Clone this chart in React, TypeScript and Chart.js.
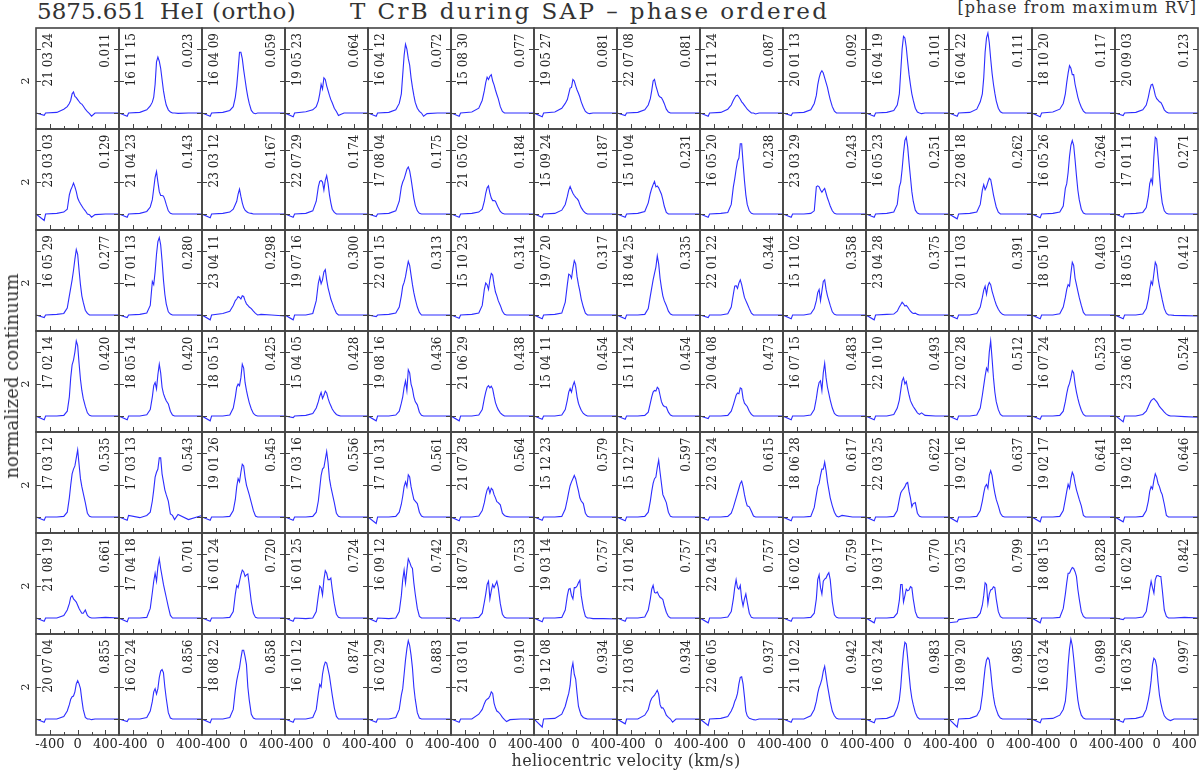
import React, { useEffect, useRef } from 'react';
import { Chart, registerables } from 'chart.js';

Chart.register(...registerables);

// ---------- data ----------
const VELOCITY = [-600, -482, -462, -300, -200, -150, -120, -100, -80, -60, -40, -20, 0, 20, 40, 60, 80, 110, 140, 170, 200, 250, 400, 595];

const X_MAJOR_TICKS = [-400, 0, 400];
const X_MINOR_TICKS = [-200, 200];
const Y_TICKS = [1, 2, 3];
const Y_LABELED_TICKS = [2];

const DATES = [
  ['21 03 24', '16 11 15', '16 04 09', '19 05 23', '16 04 12', '15 08 30', '19 05 27', '22 07 08', '21 11 24', '20 01 13', '16 04 19', '16 04 22', '18 10 20', '20 09 03'],
  ['23 03 03', '21 04 23', '23 03 12', '22 07 29', '17 08 04', '21 05 02', '15 09 24', '15 10 04', '16 05 20', '23 03 29', '16 05 23', '22 08 18', '16 05 26', '17 01 11'],
  ['16 05 29', '17 01 13', '23 04 11', '19 07 16', '22 01 15', '15 10 23', '19 07 20', '18 04 25', '22 01 22', '15 11 02', '23 04 28', '20 11 03', '18 05 10', '18 05 12'],
  ['17 02 14', '18 05 14', '18 05 15', '15 04 05', '19 08 16', '21 06 29', '15 04 11', '15 11 24', '20 04 08', '16 07 15', '22 10 10', '22 02 28', '16 07 24', '23 06 01'],
  ['17 03 12', '17 03 13', '19 01 26', '17 03 16', '17 10 31', '21 07 28', '15 12 23', '15 12 27', '22 03 24', '18 06 28', '22 03 25', '19 02 16', '19 02 17', '19 02 18'],
  ['21 08 19', '17 04 18', '16 01 24', '16 01 25', '16 09 12', '18 07 29', '19 03 14', '21 01 26', '22 04 25', '16 02 02', '19 03 17', '19 03 25', '18 08 15', '16 02 20'],
  ['20 07 04', '16 02 24', '18 08 22', '16 10 12', '16 02 29', '21 03 01', '19 12 08', '21 03 06', '22 06 05', '21 10 22', '16 03 24', '18 09 20', '16 03 24', '16 03 26'],
];

const PHASES = [
  ['0.011', '0.023', '0.059', '0.064', '0.072', '0.077', '0.081', '0.081', '0.087', '0.092', '0.101', '0.111', '0.117', '0.123'],
  ['0.129', '0.143', '0.167', '0.174', '0.175', '0.184', '0.187', '0.231', '0.238', '0.243', '0.251', '0.262', '0.264', '0.271'],
  ['0.277', '0.280', '0.298', '0.300', '0.313', '0.314', '0.317', '0.335', '0.344', '0.358', '0.375', '0.391', '0.403', '0.412'],
  ['0.420', '0.420', '0.425', '0.428', '0.436', '0.438', '0.454', '0.454', '0.473', '0.483', '0.493', '0.512', '0.523', '0.524'],
  ['0.535', '0.543', '0.545', '0.556', '0.561', '0.564', '0.579', '0.597', '0.615', '0.617', '0.622', '0.637', '0.641', '0.646'],
  ['0.661', '0.701', '0.720', '0.724', '0.742', '0.753', '0.757', '0.757', '0.757', '0.759', '0.770', '0.799', '0.828', '0.842'],
  ['0.855', '0.856', '0.858', '0.874', '0.883', '0.910', '0.934', '0.934', '0.937', '0.942', '0.983', '0.985', '0.989', '0.997'],
];

const FLUX_ROW_1 = [
  [1.0, 0.93, 1.0, 1.02, 1.12, 1.2, 1.3, 1.4, 1.6, 1.66, 1.52, 1.48, 1.42, 1.36, 1.3, 1.28, 1.22, 1.12, 1.04, 0.98, 0.9, 1.0, 1.0, 1.0],
  [1.0, 0.9, 1.0, 1.02, 1.1, 1.22, 1.34, 1.5, 1.9, 2.6, 2.75, 2.62, 2.4, 2.05, 1.7, 1.45, 1.25, 1.1, 1.03, 1.0, 1.0, 0.99, 1.0, 1.0],
  [1.0, 0.9, 1.0, 1.02, 1.08, 1.2, 1.5, 1.85, 2.35, 2.9, 2.9, 2.7, 2.35, 2.05, 1.75, 1.5, 1.3, 1.08, 1.0, 0.98, 1.0, 1.0, 1.0, 1.0],
  [1.0, 0.88, 1.0, 1.04, 1.1, 1.2, 1.38, 1.6, 1.9, 1.75, 2.1, 2.05, 1.85, 1.7, 1.55, 1.42, 1.32, 1.15, 1.05, 0.92, 0.95, 1.0, 1.0, 1.0],
  [1.0, 0.9, 1.0, 1.02, 1.1, 1.3, 1.6, 2.2, 2.8, 3.15, 3.0, 2.7, 2.5, 2.1, 1.8, 1.55, 1.33, 1.15, 1.05, 1.0, 0.9, 0.98, 1.0, 1.0],
  [1.0, 0.9, 1.0, 1.03, 1.15, 1.4, 1.7, 1.95, 2.12, 2.05, 2.15, 2.2, 2.0, 1.88, 1.72, 1.58, 1.45, 1.2, 1.05, 1.0, 1.0, 1.0, 1.0, 1.0],
  [1.0, 0.88, 1.0, 1.03, 1.15, 1.3, 1.42, 1.6, 1.78, 1.8, 2.05, 2.0, 1.85, 1.72, 1.62, 1.5, 1.35, 1.18, 1.05, 1.0, 0.98, 1.0, 1.0, 1.0],
  [1.0, 0.92, 1.0, 1.02, 1.1, 1.25, 1.45, 1.7, 2.0, 2.05, 1.85, 1.7, 1.55, 1.5, 1.48, 1.4, 1.3, 1.12, 1.03, 1.0, 1.0, 1.0, 1.0, 1.0],
  [1.0, 0.9, 1.0, 1.02, 1.12, 1.25, 1.4, 1.48, 1.54, 1.56, 1.5, 1.43, 1.35, 1.3, 1.24, 1.18, 1.12, 1.06, 1.0, 1.0, 0.97, 1.0, 1.0, 1.0],
  [1.0, 0.92, 1.0, 1.02, 1.1, 1.3, 1.55, 1.88, 2.1, 2.25, 2.32, 2.25, 2.1, 1.95, 1.8, 1.6, 1.42, 1.2, 1.06, 1.0, 1.0, 1.0, 1.0, 1.0],
  [1.0, 0.9, 1.0, 1.02, 1.08, 1.25, 1.6, 2.3, 3.0, 3.4, 3.35, 3.05, 2.6, 2.2, 1.88, 1.6, 1.4, 1.15, 1.03, 1.0, 0.98, 1.0, 1.0, 1.0],
  [1.0, 0.9, 1.0, 1.02, 1.12, 1.35, 1.6, 2.1, 2.9, 3.35, 3.5, 3.2, 2.7, 2.25, 1.9, 1.62, 1.38, 1.15, 1.04, 1.0, 1.0, 1.0, 1.0, 1.0],
  [1.0, 0.88, 1.0, 1.03, 1.12, 1.3, 1.6, 1.95, 2.25, 2.48, 2.4, 2.2, 2.2, 1.9, 1.7, 1.5, 1.35, 1.18, 1.06, 1.0, 1.0, 1.0, 1.0, 1.0],
  [1.0, 0.92, 1.0, 1.02, 1.1, 1.25, 1.5, 1.72, 1.88, 1.9, 1.75, 1.55, 1.45, 1.4, 1.35, 1.33, 1.25, 1.1, 1.03, 1.0, 1.0, 1.0, 1.0, 1.0],
];

const FLUX_ROW_2 = [
  [1.0, 0.8, 1.0, 1.02, 1.06, 1.15, 1.6, 1.75, 1.85, 1.97, 1.85, 1.7, 1.5, 1.4, 1.32, 1.25, 1.18, 1.1, 1.0, 0.98, 0.9, 0.98, 1.0, 1.0],
  [1.0, 0.9, 1.0, 1.02, 1.08, 1.22, 1.45, 1.8, 2.15, 2.33, 2.0, 1.7, 1.58, 1.58, 1.56, 1.45, 1.3, 1.1, 1.02, 1.0, 1.0, 1.0, 1.0, 1.0],
  [1.0, 0.88, 1.0, 1.02, 1.06, 1.15, 1.3, 1.4, 1.62, 1.78, 1.55, 1.35, 1.2, 1.12, 1.08, 1.05, 1.03, 1.02, 1.0, 1.0, 1.0, 1.0, 1.0, 1.0],
  [1.0, 0.9, 1.0, 1.02, 1.1, 1.4, 1.85, 2.02, 2.05, 2.0, 1.75, 2.05, 2.2, 1.95, 1.6, 1.35, 1.15, 1.05, 1.0, 1.0, 1.0, 1.0, 1.0, 1.0],
  [1.0, 0.92, 1.0, 1.02, 1.1, 1.4, 1.85, 2.0, 2.1, 2.25, 2.4, 2.47, 2.35, 2.1, 1.8, 1.5, 1.28, 1.1, 1.02, 1.0, 1.0, 1.0, 1.0, 1.0],
  [1.0, 0.9, 1.0, 1.02, 1.06, 1.15, 1.4, 1.65, 1.82, 1.88, 1.65, 1.5, 1.42, 1.42, 1.4, 1.3, 1.2, 1.08, 1.02, 1.0, 1.0, 1.0, 1.0, 1.0],
  [1.0, 0.9, 1.0, 1.02, 1.12, 1.3, 1.55, 1.75, 1.86, 1.75, 1.65, 1.58, 1.52, 1.48, 1.42, 1.3, 1.2, 1.1, 1.03, 1.0, 1.0, 1.0, 1.0, 1.0],
  [1.0, 0.9, 1.0, 1.02, 1.08, 1.35, 1.65, 1.8, 1.92, 2.02, 1.85, 1.88, 1.82, 1.72, 1.62, 1.45, 1.25, 1.05, 1.0, 1.0, 1.0, 1.0, 1.0, 1.0],
  [1.0, 0.9, 1.0, 1.02, 1.05, 1.3, 1.85, 2.1, 2.4, 2.65, 2.75, 3.2, 3.2, 2.6, 2.05, 1.6, 1.3, 1.1, 1.02, 1.0, 1.0, 1.0, 1.0, 1.0],
  [1.0, 0.9, 1.0, 1.0, 1.02, 1.1, 1.85, 1.88, 1.85, 1.75, 1.68, 1.75, 1.8, 1.65, 1.5, 1.38, 1.25, 1.1, 1.02, 1.0, 1.0, 1.0, 1.0, 1.0],
  [1.0, 0.9, 1.0, 1.02, 1.06, 1.3, 1.85, 2.0, 2.4, 2.9, 3.3, 3.4, 3.1, 2.6, 2.15, 1.7, 1.4, 1.12, 1.03, 1.0, 1.0, 1.0, 1.0, 1.0],
  [1.0, 0.85, 1.0, 1.02, 1.06, 1.3, 1.75, 1.92, 1.76, 1.85, 2.0, 2.12, 2.08, 1.85, 1.6, 1.4, 1.22, 1.06, 1.0, 1.0, 1.0, 1.0, 1.0, 1.0],
  [1.0, 0.88, 1.0, 1.02, 1.06, 1.25, 1.8, 1.95, 2.3, 2.8, 3.15, 3.3, 3.15, 2.7, 2.2, 1.75, 1.45, 1.15, 1.03, 1.0, 1.0, 1.0, 1.0, 1.0],
  [1.0, 0.9, 1.0, 1.02, 1.05, 1.2, 1.55, 1.95, 2.1, 1.95, 2.8, 3.4, 3.35, 2.8, 2.2, 1.7, 1.35, 1.1, 1.02, 1.0, 1.0, 1.0, 1.0, 1.0],
];

const FLUX_ROW_3 = [
  [1.0, 0.92, 1.0, 1.02, 1.05, 1.22, 1.6, 1.85, 2.1, 2.4, 2.75, 3.05, 2.9, 2.4, 1.95, 1.6, 1.4, 1.15, 1.05, 1.0, 1.0, 1.0, 1.0, 1.0],
  [1.0, 0.92, 1.0, 1.02, 1.06, 1.3, 2.05, 1.95, 2.35, 2.9, 3.3, 3.42, 3.2, 2.7, 2.1, 1.65, 1.35, 1.1, 1.03, 1.0, 1.0, 1.0, 1.0, 1.0],
  [1.0, 0.85, 1.0, 1.05, 1.12, 1.3, 1.45, 1.5, 1.58, 1.55, 1.5, 1.6, 1.58, 1.45, 1.35, 1.3, 1.25, 1.2, 1.12, 1.05, 1.0, 1.02, 1.0, 0.97],
  [1.0, 0.85, 1.0, 1.0, 1.05, 1.45, 2.0, 2.18, 1.98, 2.1, 2.35, 2.42, 2.1, 1.85, 1.68, 1.5, 1.38, 1.2, 1.06, 1.0, 1.0, 1.0, 1.0, 1.0],
  [1.0, 0.95, 1.0, 1.02, 1.06, 1.25, 1.6, 1.9, 2.02, 2.2, 2.45, 2.68, 2.55, 2.25, 1.95, 1.7, 1.5, 1.25, 1.08, 1.0, 1.0, 1.0, 1.0, 1.0],
  [1.0, 0.9, 1.0, 1.02, 1.06, 1.3, 1.8, 2.0, 1.95, 1.8, 2.1, 2.3, 2.25, 1.95, 1.72, 1.6, 1.45, 1.3, 1.12, 1.02, 1.0, 1.0, 1.0, 1.0],
  [1.0, 0.88, 1.0, 1.02, 1.06, 1.4, 1.95, 2.28, 2.25, 2.15, 2.45, 2.7, 2.6, 2.2, 1.95, 1.75, 1.5, 1.25, 1.06, 1.0, 1.0, 1.0, 1.0, 1.0],
  [1.0, 0.88, 1.0, 1.0, 1.02, 1.2, 1.6, 1.85, 2.1, 2.3, 2.5, 2.85, 2.6, 2.15, 1.85, 1.6, 1.45, 1.3, 1.12, 1.03, 1.0, 1.0, 1.0, 1.0],
  [1.0, 0.92, 1.0, 1.0, 1.04, 1.25, 1.65, 1.9, 1.92, 1.83, 2.0, 2.1, 1.95, 1.75, 1.55, 1.45, 1.35, 1.2, 1.06, 1.0, 1.0, 1.0, 1.0, 1.0],
  [1.0, 0.88, 1.0, 1.0, 1.04, 1.2, 1.45, 1.7, 1.8, 1.45, 1.75, 2.05, 2.1, 1.8, 1.6, 1.45, 1.3, 1.1, 1.02, 1.0, 1.0, 1.0, 1.0, 1.0],
  [1.0, 0.85, 1.0, 1.02, 1.03, 1.12, 1.25, 1.32, 1.4, 1.35, 1.28, 1.3, 1.25, 1.18, 1.12, 1.08, 1.05, 1.06, 1.02, 1.0, 1.0, 1.0, 1.0, 1.0],
  [1.0, 0.88, 1.0, 1.0, 1.05, 1.25, 1.55, 1.78, 1.9, 1.65, 1.9, 2.02, 1.95, 1.75, 1.6, 1.45, 1.32, 1.18, 1.08, 1.02, 1.0, 1.0, 1.0, 1.0],
  [1.0, 0.88, 1.0, 1.0, 1.04, 1.25, 1.55, 1.8, 1.95, 1.9, 2.3, 2.65, 2.55, 2.15, 1.95, 1.75, 1.55, 1.3, 1.08, 1.0, 1.0, 1.0, 1.0, 1.0],
  [1.0, 0.88, 1.0, 1.0, 1.03, 1.2, 1.5, 1.8, 2.05, 1.95, 2.3, 2.65, 2.55, 2.15, 1.9, 1.7, 1.48, 1.2, 1.05, 1.0, 1.0, 0.99, 0.98, 0.97],
];

const FLUX_ROW_4 = [
  [1.0, 0.88, 1.0, 1.0, 1.02, 1.15, 1.6, 2.2, 2.6, 2.75, 3.0, 3.35, 3.2, 2.65, 2.15, 1.8, 1.55, 1.3, 1.1, 1.02, 1.0, 1.0, 1.0, 1.0],
  [1.0, 0.88, 1.0, 1.0, 1.04, 1.2, 1.6, 1.95, 2.05, 1.85, 2.3, 2.62, 2.35, 1.9, 1.7, 1.58, 1.48, 1.38, 1.15, 1.03, 1.0, 1.0, 1.0, 1.0],
  [1.0, 0.85, 1.0, 1.0, 1.03, 1.25, 1.6, 1.9, 2.0, 1.95, 2.2, 2.62, 2.5, 2.05, 1.8, 1.6, 1.42, 1.22, 1.08, 1.02, 1.0, 1.0, 1.0, 1.0],
  [1.0, 0.95, 1.0, 1.02, 1.08, 1.25, 1.45, 1.62, 1.74, 1.55, 1.65, 1.78, 1.72, 1.55, 1.42, 1.32, 1.22, 1.12, 1.05, 1.02, 1.0, 1.0, 1.0, 1.0],
  [1.0, 0.85, 1.0, 1.0, 1.03, 1.15, 1.4, 1.6, 1.9, 2.1, 1.8, 2.45, 2.35, 2.0, 1.85, 1.6, 1.45, 1.35, 1.12, 1.02, 1.0, 1.0, 1.0, 1.0],
  [1.0, 0.85, 1.0, 1.0, 1.03, 1.2, 1.55, 1.75, 1.9, 1.95, 1.88, 1.93, 1.85, 1.62, 1.42, 1.3, 1.2, 1.1, 1.04, 1.0, 1.0, 1.0, 1.0, 1.0],
  [1.0, 0.9, 1.0, 1.0, 1.03, 1.2, 1.5, 1.75, 1.86, 1.75, 1.95, 2.07, 1.9, 1.6, 1.4, 1.28, 1.18, 1.08, 1.03, 1.0, 1.0, 1.0, 1.0, 1.0],
  [1.0, 0.9, 1.0, 1.0, 1.02, 1.12, 1.4, 1.6, 1.75, 1.8, 1.78, 1.9, 1.85, 1.65, 1.45, 1.35, 1.3, 1.28, 1.12, 1.03, 1.0, 1.0, 1.0, 1.0],
  [1.0, 0.92, 1.0, 1.0, 1.02, 1.15, 1.35, 1.5, 1.65, 1.72, 1.7, 1.88, 1.85, 1.55, 1.4, 1.35, 1.3, 1.15, 1.05, 1.0, 1.0, 1.0, 1.0, 1.0],
  [1.0, 0.88, 1.0, 1.0, 1.03, 1.2, 1.55, 1.85, 2.05, 2.1, 1.8, 2.35, 2.65, 2.2, 1.9, 1.7, 1.5, 1.25, 1.08, 1.02, 1.0, 1.0, 1.0, 1.0],
  [1.0, 0.88, 1.0, 1.0, 1.05, 1.25, 1.5, 1.8, 2.1, 2.2, 2.0, 2.08, 1.85, 1.65, 1.48, 1.38, 1.3, 1.2, 1.1, 1.05, 1.1, 1.02, 1.0, 1.0],
  [1.0, 0.88, 1.0, 1.0, 1.03, 1.25, 1.65, 1.95, 2.25, 2.5, 2.4, 3.0, 3.35, 2.8, 2.2, 1.75, 1.45, 1.2, 1.05, 1.0, 1.0, 1.0, 1.0, 1.0],
  [1.0, 0.9, 1.0, 1.0, 1.02, 1.15, 1.45, 1.7, 1.9, 2.02, 2.2, 2.42, 2.35, 2.0, 1.75, 1.55, 1.38, 1.18, 1.05, 1.0, 1.0, 1.0, 1.0, 1.0],
  [1.02, 0.82, 1.0, 1.0, 1.05, 1.15, 1.3, 1.4, 1.48, 1.52, 1.55, 1.5, 1.45, 1.38, 1.3, 1.25, 1.2, 1.12, 1.06, 1.02, 1.0, 1.0, 0.98, 0.96],
];

const FLUX_ROW_5 = [
  [1.0, 0.9, 1.0, 1.0, 1.02, 1.15, 1.6, 2.0, 2.35, 2.5, 2.6, 2.85, 3.1, 2.65, 2.2, 1.95, 1.75, 1.45, 1.12, 1.02, 1.0, 1.0, 1.0, 1.0],
  [1.0, 0.9, 1.05, 0.98, 1.05, 1.15, 1.5, 1.85, 2.25, 2.4, 2.5, 2.85, 2.85, 2.35, 2.1, 1.85, 1.7, 1.5, 1.1, 1.05, 0.92, 1.08, 0.92, 1.05],
  [1.0, 0.9, 1.0, 1.0, 1.02, 1.2, 1.55, 1.95, 2.2, 2.1, 2.4, 2.65, 2.6, 2.25, 2.0, 1.85, 1.7, 1.45, 1.2, 1.03, 1.0, 1.0, 1.0, 1.0],
  [1.0, 0.9, 1.0, 1.0, 1.02, 1.15, 1.5, 1.9, 2.3, 2.5, 2.55, 2.8, 3.05, 2.7, 2.2, 1.95, 1.75, 1.45, 1.12, 1.02, 1.0, 1.0, 1.0, 1.0],
  [1.0, 0.8, 1.0, 1.0, 1.02, 1.15, 1.4, 1.65, 1.95, 2.1, 1.95, 2.32, 2.25, 1.95, 1.75, 1.55, 1.5, 1.42, 1.15, 1.03, 1.0, 1.0, 1.0, 1.0],
  [1.0, 0.88, 1.0, 1.0, 1.03, 1.2, 1.45, 1.68, 1.85, 1.93, 1.75, 1.9, 1.85, 1.7, 1.6, 1.48, 1.45, 1.38, 1.12, 1.05, 1.02, 1.0, 1.0, 1.0],
  [1.0, 0.9, 1.0, 1.0, 1.02, 1.25, 1.55, 1.78, 1.98, 2.1, 2.2, 2.3, 2.2, 2.0, 1.82, 1.6, 1.5, 1.42, 1.12, 1.02, 1.0, 1.0, 1.0, 1.0],
  [1.0, 0.88, 1.0, 1.0, 1.02, 1.15, 1.5, 1.8, 2.05, 2.2, 2.25, 2.55, 2.78, 2.4, 2.05, 1.7, 1.6, 1.45, 1.15, 1.02, 1.0, 1.0, 1.0, 1.0],
  [1.0, 0.9, 1.0, 1.0, 1.02, 1.12, 1.3, 1.45, 1.6, 1.75, 1.9, 2.05, 2.12, 1.95, 1.7, 1.5, 1.35, 1.32, 1.18, 1.03, 1.0, 1.0, 1.0, 1.0],
  [1.0, 0.88, 1.0, 1.0, 1.02, 1.3, 1.7, 1.95, 2.05, 2.3, 2.5, 2.5, 2.72, 2.45, 2.1, 1.85, 1.6, 1.35, 1.15, 1.03, 1.0, 1.05, 1.0, 1.0],
  [1.0, 0.88, 1.0, 1.0, 1.02, 1.2, 1.55, 1.75, 1.83, 1.88, 1.95, 2.05, 2.08, 1.8, 1.6, 1.32, 1.42, 1.45, 1.12, 1.02, 1.0, 1.0, 1.0, 1.0],
  [1.0, 0.85, 1.0, 1.0, 1.02, 1.2, 1.5, 1.75, 1.95, 2.02, 1.9, 2.3, 2.45, 2.3, 2.0, 1.75, 1.55, 1.35, 1.12, 1.02, 1.0, 1.0, 1.0, 1.0],
  [1.0, 0.85, 1.0, 1.0, 1.02, 1.2, 1.55, 1.8, 2.02, 1.9, 2.2, 2.4, 2.3, 2.05, 1.85, 1.7, 1.55, 1.35, 1.05, 1.0, 1.0, 1.0, 1.0, 1.0],
  [1.0, 0.85, 1.0, 1.0, 1.02, 1.2, 1.5, 1.8, 1.95, 1.88, 2.15, 2.35, 2.25, 2.05, 1.95, 1.8, 1.7, 1.4, 1.05, 1.0, 1.0, 1.0, 1.0, 1.0],
];

const FLUX_ROW_6 = [
  [1.0, 0.9, 1.0, 1.0, 1.08, 1.25, 1.45, 1.65, 1.7, 1.6, 1.55, 1.5, 1.4, 1.3, 1.22, 1.15, 1.15, 1.25, 1.08, 1.02, 1.0, 1.0, 1.02, 1.0],
  [1.0, 0.88, 1.0, 1.0, 1.02, 1.3, 1.8, 2.15, 2.4, 2.15, 2.6, 2.85, 2.55, 2.3, 2.05, 1.85, 1.65, 1.35, 1.08, 1.0, 1.0, 1.0, 1.0, 1.0],
  [1.0, 0.9, 1.0, 1.0, 1.02, 1.2, 1.75, 2.02, 1.95, 2.15, 2.35, 2.5, 2.45, 2.3, 2.35, 2.38, 2.05, 1.5, 1.15, 1.02, 1.0, 1.0, 1.0, 1.0],
  [1.0, 0.9, 1.0, 0.98, 1.0, 1.2, 1.7, 2.0, 1.95, 1.72, 2.2, 2.48, 2.4, 2.2, 2.2, 2.25, 1.9, 1.45, 1.12, 1.02, 1.0, 1.0, 1.0, 1.0],
  [1.0, 0.88, 1.0, 0.98, 1.0, 1.2, 1.7, 2.2, 2.5, 2.1, 2.5, 2.85, 2.75, 2.62, 2.55, 2.1, 1.75, 1.3, 1.05, 1.0, 1.0, 1.0, 1.0, 1.0],
  [1.0, 0.9, 1.0, 1.0, 1.02, 1.15, 1.5, 1.75, 2.05, 2.15, 1.6, 1.85, 2.05, 1.95, 2.05, 2.15, 1.95, 1.45, 1.12, 1.02, 1.0, 1.0, 1.0, 1.0],
  [1.0, 0.88, 1.0, 1.0, 1.02, 1.25, 1.7, 1.9, 1.92, 1.7, 1.6, 1.95, 1.95, 2.0, 2.1, 2.18, 1.7, 1.3, 1.05, 1.0, 1.0, 0.98, 0.98, 0.97],
  [1.0, 0.9, 1.0, 1.0, 1.03, 1.25, 1.6, 1.9, 2.02, 1.8, 1.78, 1.82, 1.72, 1.65, 1.62, 1.58, 1.4, 1.18, 1.05, 1.0, 1.0, 1.0, 1.0, 1.0],
  [1.0, 0.85, 1.0, 1.0, 1.03, 1.2, 1.6, 1.95, 2.2, 1.95, 1.9, 2.02, 1.6, 1.38, 1.6, 1.75, 1.5, 1.15, 1.02, 1.0, 1.0, 1.0, 1.0, 1.0],
  [1.0, 0.9, 1.0, 1.0, 1.02, 1.15, 1.6, 2.2, 2.35, 1.95, 1.75, 2.15, 2.22, 2.25, 2.35, 2.42, 2.2, 1.5, 1.1, 1.02, 1.0, 1.0, 1.0, 1.0],
  [1.0, 0.85, 1.0, 1.0, 1.02, 1.15, 1.55, 2.05, 2.05, 1.5, 1.7, 1.9, 1.85, 1.88, 1.98, 1.95, 1.6, 1.2, 1.03, 1.0, 1.0, 1.0, 1.0, 1.0],
  [0.85, 0.88, 0.95, 1.0, 1.02, 1.15, 1.4, 1.7, 2.1, 2.05, 1.45, 1.75, 1.88, 1.9, 1.98, 1.95, 1.6, 1.2, 1.04, 1.0, 1.0, 1.0, 1.0, 1.0],
  [1.0, 0.85, 1.0, 1.0, 1.02, 1.3, 1.75, 2.1, 2.4, 2.4, 2.5, 2.58, 2.55, 2.45, 2.3, 1.9, 1.6, 1.2, 1.05, 1.0, 1.0, 1.0, 1.0, 1.0],
  [1.0, 0.95, 1.0, 1.0, 1.03, 1.2, 1.6, 1.9, 2.15, 1.95, 1.78, 2.2, 2.32, 2.33, 2.3, 2.3, 1.9, 1.25, 1.05, 1.0, 1.0, 1.0, 1.02, 1.0],
];

const FLUX_ROW_7 = [
  [1.0, 0.9, 1.0, 1.0, 1.08, 1.25, 1.45, 1.62, 1.7, 1.72, 1.85, 2.1, 2.2, 2.1, 1.95, 1.6, 1.3, 1.05, 1.0, 1.0, 0.98, 1.0, 1.0, 1.0],
  [1.0, 0.92, 1.0, 1.0, 1.05, 1.25, 1.55, 1.85, 1.95, 1.78, 1.95, 2.3, 2.5, 2.55, 2.45, 2.0, 1.65, 1.2, 1.03, 1.0, 1.0, 1.0, 1.0, 1.0],
  [1.0, 0.88, 1.0, 1.0, 1.05, 1.3, 1.9, 2.2, 2.42, 2.6, 2.9, 3.15, 3.15, 2.95, 2.7, 2.0, 1.6, 1.15, 1.03, 1.0, 1.0, 1.0, 1.0, 1.0],
  [1.0, 0.9, 1.0, 1.0, 1.05, 1.3, 1.8, 2.08, 2.0, 2.4, 2.65, 2.78, 2.75, 2.55, 2.35, 2.05, 1.75, 1.35, 1.08, 1.0, 1.0, 1.0, 1.0, 1.0],
  [1.0, 0.9, 1.0, 1.0, 1.05, 1.3, 1.75, 1.95, 2.4, 2.85, 3.2, 3.45, 3.3, 3.0, 2.6, 2.0, 1.62, 1.2, 1.03, 1.0, 1.0, 1.0, 1.0, 1.0],
  [1.0, 0.9, 1.0, 1.0, 1.15, 1.3, 1.48, 1.58, 1.62, 1.65, 1.72, 1.85, 1.8, 1.5, 1.35, 1.25, 1.22, 1.15, 1.05, 0.98, 0.92, 0.98, 1.0, 1.0],
  [1.0, 0.75, 1.0, 1.02, 1.15, 1.4, 1.65, 1.8, 2.05, 2.55, 2.75, 2.4, 2.25, 1.8, 1.4, 1.25, 1.12, 1.05, 1.02, 1.0, 1.0, 1.0, 1.0, 1.0],
  [1.0, 0.85, 1.0, 1.0, 1.12, 1.3, 1.55, 1.65, 1.7, 1.75, 1.82, 1.9, 1.78, 1.45, 1.35, 1.35, 1.28, 1.12, 1.05, 1.0, 0.9, 1.0, 1.0, 1.0],
  [1.0, 0.8, 1.0, 1.02, 1.08, 1.25, 1.4, 1.55, 1.65, 1.8, 2.1, 2.3, 2.32, 2.1, 1.7, 1.25, 1.1, 1.02, 1.0, 0.98, 0.97, 1.0, 1.0, 1.0],
  [1.0, 0.9, 1.0, 1.0, 1.1, 1.3, 1.55, 1.8, 1.98, 2.1, 2.25, 2.5, 2.65, 2.35, 2.05, 1.8, 1.55, 1.25, 1.1, 1.02, 1.0, 1.0, 1.0, 1.0],
  [1.0, 0.88, 1.0, 1.02, 1.1, 1.35, 1.6, 2.0, 2.6, 3.1, 3.4, 3.35, 2.9, 2.4, 1.95, 1.65, 1.45, 1.2, 1.06, 1.0, 1.0, 1.0, 1.0, 1.0],
  [1.0, 0.75, 1.0, 1.02, 1.1, 1.3, 1.75, 2.2, 2.6, 2.85, 2.92, 2.85, 2.5, 2.05, 1.7, 1.45, 1.3, 1.12, 1.03, 1.0, 1.0, 1.0, 1.0, 1.0],
  [1.0, 0.88, 1.0, 1.02, 1.12, 1.3, 1.55, 2.0, 2.7, 3.2, 3.5, 3.3, 2.9, 2.45, 2.0, 1.6, 1.35, 1.12, 1.03, 1.0, 1.0, 1.0, 1.0, 1.0],
  [1.0, 0.9, 1.0, 1.02, 1.08, 1.3, 1.6, 1.85, 2.2, 2.7, 2.9, 2.85, 2.65, 2.15, 1.75, 1.5, 1.3, 1.1, 1.02, 0.98, 0.95, 1.0, 1.0, 1.0],
];

const FLUX_ROWS = [FLUX_ROW_1, FLUX_ROW_2, FLUX_ROW_3, FLUX_ROW_4, FLUX_ROW_5, FLUX_ROW_6, FLUX_ROW_7];

// ---------- layout / style ----------
const X_MIN = -600;
const X_MAX = 595;
const Y_MIN = 0.5;
const Y_MAX = 3.66;
const GRID_LEFT = 36;
const GRID_TOP = 28;
const PANEL_W = 83;
const PANEL_H = 101;
const PAD = 20;
const N_ROWS = 7;
const N_COLS = 14;
const LINE_COLOR = 'rgb(45, 45, 255)';
const FRAME_COLOR = '#444';
const TEXT_COLOR = '#222';
const SERIF = '"DejaVu Serif", "Liberation Serif", serif';

function makeFramePlugin(row: number, col: number, date: string, phase: string) {
  return {
    id: 'panelFrame',
    afterDraw(chart: any) {
      const { ctx, chartArea: a } = chart;
      const xs = chart.scales.x;
      const ys = chart.scales.y;
      ctx.save();
      // inward ticks
      ctx.strokeStyle = FRAME_COLOR;
      ctx.lineWidth = 1;
      ctx.beginPath();
      for (const v of Y_TICKS) {
        const py = Math.round(ys.getPixelForValue(v)) + 0.5;
        ctx.moveTo(a.left, py);
        ctx.lineTo(a.left + 5, py);
        ctx.moveTo(a.right, py);
        ctx.lineTo(a.right - 5, py);
      }
      for (const v of X_MAJOR_TICKS) {
        const px = Math.round(xs.getPixelForValue(v)) + 0.5;
        ctx.moveTo(px, a.bottom);
        ctx.lineTo(px, a.bottom - 5);
      }
      for (const v of X_MINOR_TICKS) {
        const px = Math.round(xs.getPixelForValue(v)) + 0.5;
        ctx.moveTo(px, a.bottom);
        ctx.lineTo(px, a.bottom - 3);
      }
      ctx.stroke();
      // frame
      ctx.lineWidth = 1.6;
      ctx.strokeRect(a.left, a.top, a.right - a.left, a.bottom - a.top);

      // rotated panel labels (date left, phase right)
      ctx.fillStyle = TEXT_COLOR;
      ctx.font = `12px ${SERIF}`;
      ctx.textAlign = 'right';
      ctx.textBaseline = 'middle';
      ctx.save();
      ctx.translate(a.left + 12.5, a.top + 5);
      ctx.rotate(-Math.PI / 2);
      ctx.fillText(date, 0, 0);
      ctx.restore();
      ctx.save();
      ctx.translate(a.right - 13, a.top + 5.5);
      ctx.rotate(-Math.PI / 2);
      ctx.fillText(phase, 0, 0);
      ctx.restore();

      // y tick labels on first column
      if (col === 0) {
        ctx.font = `11px ${SERIF}`;
        ctx.textAlign = 'center';
        for (const v of Y_LABELED_TICKS) {
          ctx.save();
          ctx.translate(a.left - 9.5, ys.getPixelForValue(v));
          ctx.rotate(-Math.PI / 2);
          ctx.fillText(String(v), 0, 0);
          ctx.restore();
        }
      }
      // x tick labels on bottom row
      if (row === N_ROWS - 1) {
        ctx.font = `13px ${SERIF}`;
        ctx.textAlign = 'center';
        ctx.textBaseline = 'middle';
        for (const v of X_MAJOR_TICKS) {
          ctx.fillText(String(v), xs.getPixelForValue(v), a.bottom + 10);
        }
      }
      ctx.restore();
    },
  };
}

function Panel({ row, col }: { row: number; col: number }) {
  const ref = useRef<HTMLCanvasElement | null>(null);
  useEffect(() => {
    const flux = FLUX_ROWS[row][col];
    const chart = new Chart(ref.current as HTMLCanvasElement, {
      type: 'line',
      data: {
        datasets: [
          {
            data: VELOCITY.map((v, i) => ({ x: v, y: flux[i] })),
            borderColor: LINE_COLOR,
            borderWidth: 1.1,
            pointRadius: 0,
            fill: false,
            tension: 0,
          },
        ],
      },
      options: {
        animation: false,
        responsive: false,
        devicePixelRatio: 1,
        events: [],
        layout: { padding: PAD },
        plugins: { legend: { display: false }, tooltip: { enabled: false } },
        scales: {
          x: { type: 'linear', min: X_MIN, max: X_MAX, display: false },
          y: { type: 'linear', min: Y_MIN, max: Y_MAX, display: false },
        },
      },
      plugins: [makeFramePlugin(row, col, DATES[row][col], PHASES[row][col])],
    } as any);
    return () => chart.destroy();
  }, [row, col]);
  const w = PANEL_W + 2 * PAD;
  const h = PANEL_H + 2 * PAD;
  return (
    <canvas
      ref={ref}
      width={w}
      height={h}
      style={{
        position: 'absolute',
        left: GRID_LEFT + col * PANEL_W - PAD,
        top: GRID_TOP + row * PANEL_H - PAD,
        width: w,
        height: h,
      }}
    />
  );
}

export default function App() {
  const panels: React.ReactNode[] = [];
  for (let r = 0; r < N_ROWS; r++) {
    for (let c = 0; c < N_COLS; c++) {
      panels.push(<Panel key={`${r}-${c}`} row={r} col={c} />);
    }
  }
  const titleStyle: React.CSSProperties = {
    position: 'absolute',
    top: 0,
    fontFamily: SERIF,
    fontSize: 23,
    lineHeight: '23px',
    color: '#333',
    whiteSpace: 'pre',
  };
  return (
    <div
      style={{
        position: 'absolute',
        left: 0,
        top: 0,
        width: 1200,
        height: 772,
        overflow: 'hidden',
        background: '#fff',
      }}
    >
      <div style={{ ...titleStyle, left: 37 }}>5875.651</div>
      <div style={{ ...titleStyle, left: 160, letterSpacing: '0.5px' }}>HeI (ortho)</div>
      <div style={{ ...titleStyle, left: 350, letterSpacing: '2.4px' }}>T CrB during SAP – phase ordered</div>
      <div
        style={{
          position: 'absolute',
          top: 0,
          right: 3,
          fontFamily: SERIF,
          fontSize: 16,
          lineHeight: '16px',
          color: '#333',
          whiteSpace: 'pre',
          letterSpacing: '1px',
        }}
      >
        [phase from maximum RV]
      </div>
      {panels}
      <div
        style={{
          position: 'absolute',
          left: 626,
          top: 753,
          transform: 'translateX(-50%)',
          fontFamily: SERIF,
          fontSize: 16,
          lineHeight: '16px',
          color: '#333',
          whiteSpace: 'pre',
          letterSpacing: '0.3px',
        }}
      >
        heliocentric velocity (km/s)
      </div>
      <div
        style={{
          position: 'absolute',
          left: 12,
          top: 376,
          transform: 'translate(-50%, -50%) rotate(-90deg)',
          fontFamily: SERIF,
          fontSize: 18,
          lineHeight: '18px',
          color: '#333',
          whiteSpace: 'pre',
        }}
      >
        normalized continuum
      </div>
    </div>
  );
}
